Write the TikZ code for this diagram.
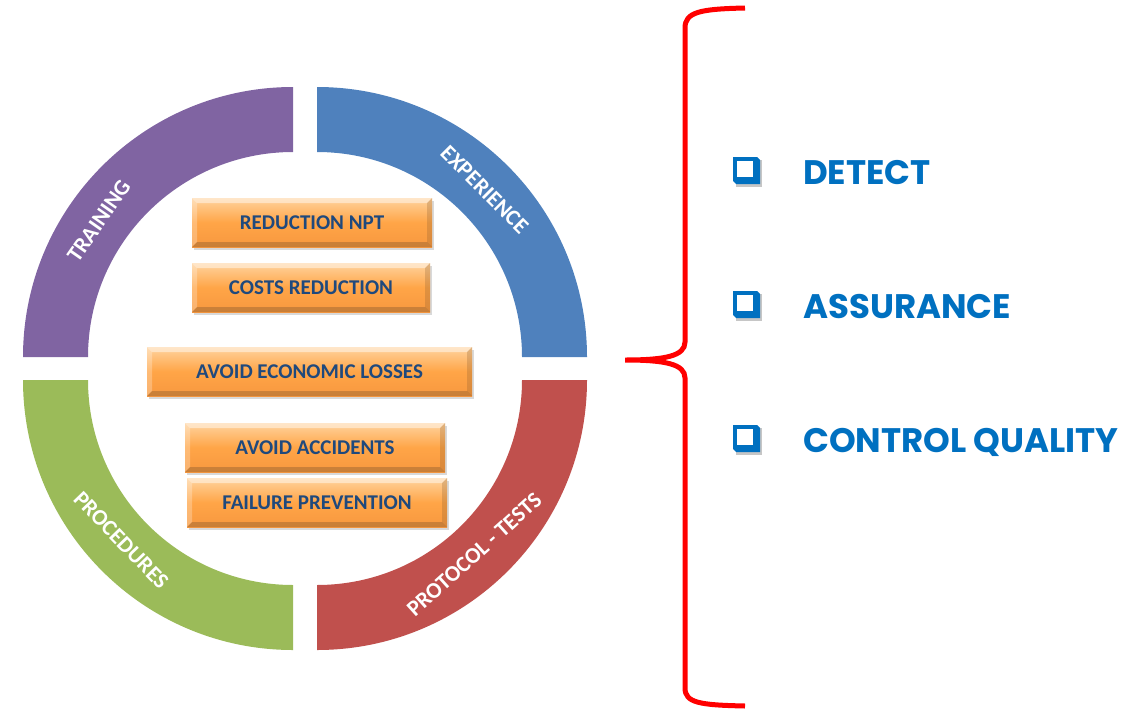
\documentclass[tikz,border=0pt]{standalone}
\usepackage{fontspec}
\setmainfont{Carlito}
\newfontfamily\gothic{Poppins}
\usetikzlibrary{shadows,calc}
\definecolor{cpurple}{HTML}{8064A2}
\definecolor{cblue}{HTML}{4F81BD}
\definecolor{cgreen}{HTML}{9BBB59}
\definecolor{cred}{HTML}{C0504D}
\definecolor{otop}{HTML}{FFD39E}
\definecolor{obot}{HTML}{F7983F}
\definecolor{boxtext}{HTML}{1F497D}
\definecolor{bluetext}{HTML}{0070C0}
\definecolor{bracered}{HTML}{FF0000}
\tikzset{
  ringlabel/.style={text=white, font=\bfseries\fontsize{22.5}{26}\selectfont, inner sep=0pt},
  obox/.style={minimum height=49pt, inner sep=0pt, text=boxtext,
    font=\bfseries\fontsize{21}{25}\selectfont,
    top color=otop, bottom color=obot, middle color=orange!55!otop,
    drop shadow={shadow xshift=2pt, shadow yshift=-3pt, opacity=0.3},
    path picture={
      \fill[white,opacity=0.45] (path picture bounding box.north west) -- (path picture bounding box.north east)
        -- ([xshift=-5pt,yshift=-5pt]path picture bounding box.north east) -- ([xshift=5pt,yshift=-5pt]path picture bounding box.north west) -- cycle;
      \fill[white,opacity=0.25] (path picture bounding box.north west) -- ([xshift=5pt,yshift=-5pt]path picture bounding box.north west)
        -- ([xshift=5pt,yshift=5pt]path picture bounding box.south west) -- (path picture bounding box.south west) -- cycle;
      \fill[brown!70!black,opacity=0.25] (path picture bounding box.north east) -- ([xshift=-5pt,yshift=-5pt]path picture bounding box.north east)
        -- ([xshift=-5pt,yshift=5pt]path picture bounding box.south east) -- (path picture bounding box.south east) -- cycle;
      \fill[brown!70!black,opacity=0.4] (path picture bounding box.south west) -- ([xshift=5pt,yshift=5pt]path picture bounding box.south west)
        -- ([xshift=-5pt,yshift=5pt]path picture bounding box.south east) -- (path picture bounding box.south east) -- cycle;
    }},
  item/.style={anchor=base west, text=bluetext, inner sep=0pt,
    font=\gothic\bfseries\fontsize{34}{38}\selectfont},
  bracket/.style={draw=bracered, line width=5pt, line cap=butt},
}
\newcommand{\checkbullet}[2]{%
  \fill[gray!45] (#1+3,#2+-3) rectangle (#1+29,#2-30);
  \fill[bluetext] (#1,#2) -- (#1+24,#2) -- (#1+27,#2-3) -- (#1+27,#2-27) -- (#1+3,#2-27) -- (#1,#2-24) -- cycle;
  \fill[white] (#1+4,#2-4) rectangle (#1+20,#2-20);
}
\begin{document}
\begin{tikzpicture}[x=1pt,y=1pt]
\useasboundingbox (0,0) rectangle (1134,-712);
% ring quarters
\fill[cpurple] (23,-357) arc[start angle=180,end angle=90,radius=270] -- (293,-152) arc[start angle=90,end angle=180,radius=205] -- cycle;
\fill[cblue] (317,-87) arc[start angle=90,end angle=0,radius=270] -- (522,-357) arc[start angle=0,end angle=90,radius=205] -- cycle;
\fill[cgreen] (23,-380) arc[start angle=180,end angle=270,radius=270] -- (293,-585) arc[start angle=270,end angle=180,radius=205] -- cycle;
\fill[cred] (587,-380) arc[start angle=0,end angle=-90,radius=270] -- (317,-585) arc[start angle=-90,end angle=0,radius=205] -- cycle;
% ring labels
\node[ringlabel, rotate=55] (training) at ($(293,-357)+(145:237)$) {TRAINING};
\node[ringlabel, rotate=-45] (experience) at ($(317,-357)+(45:237)$) {EXPERIENCE};
\node[ringlabel, rotate=-46] (procedures) at ($(293,-380)+(223:235)$) {PROCEDURES};
\node[ringlabel, rotate=42] (protocol) at ($(317,-380)+(-48:235)$) {PROTOCOL - TESTS};
% orange boxes
\node[obox, minimum width=240pt] (npt) at (312,-222.5) {REDUCTION NPT};
\node[obox, minimum width=238pt] (costs) at (311,-287.5) {COSTS REDUCTION};
\node[obox, minimum width=325pt] (losses) at (309.5,-371.5) {AVOID ECONOMIC LOSSES};
\node[obox, minimum width=260pt] (accidents) at (315,-447.5) {AVOID ACCIDENTS};
\node[obox, minimum width=260pt] (failure) at (317,-502.5) {FAILURE PREVENTION};
% brace
\coordinate (btop) at (745,-8);
\coordinate (btip) at (625,-360);
\coordinate (bbot) at (745,-706);
\draw[bracket] (btop) .. controls (700,-9) and (685,-12) .. (685,-28) -- (685,-342)
  .. controls (685,-356) and (665,-360) .. (btip)
  .. controls (665,-360) and (685,-364) .. (685,-378) -- (685,-688)
  .. controls (685,-703) and (700,-705) .. (bbot);
% bullets
\checkbullet{733}{-157}
\checkbullet{733}{-291}
\checkbullet{733}{-425}
\node[item] (detect) at (803,-184) {DETECT};
\node[item] (assurance) at (803,-318) {ASSURANCE};
\node[item] (control) at (803,-452) {CONTROL QUALITY};
\end{tikzpicture}
\end{document}
